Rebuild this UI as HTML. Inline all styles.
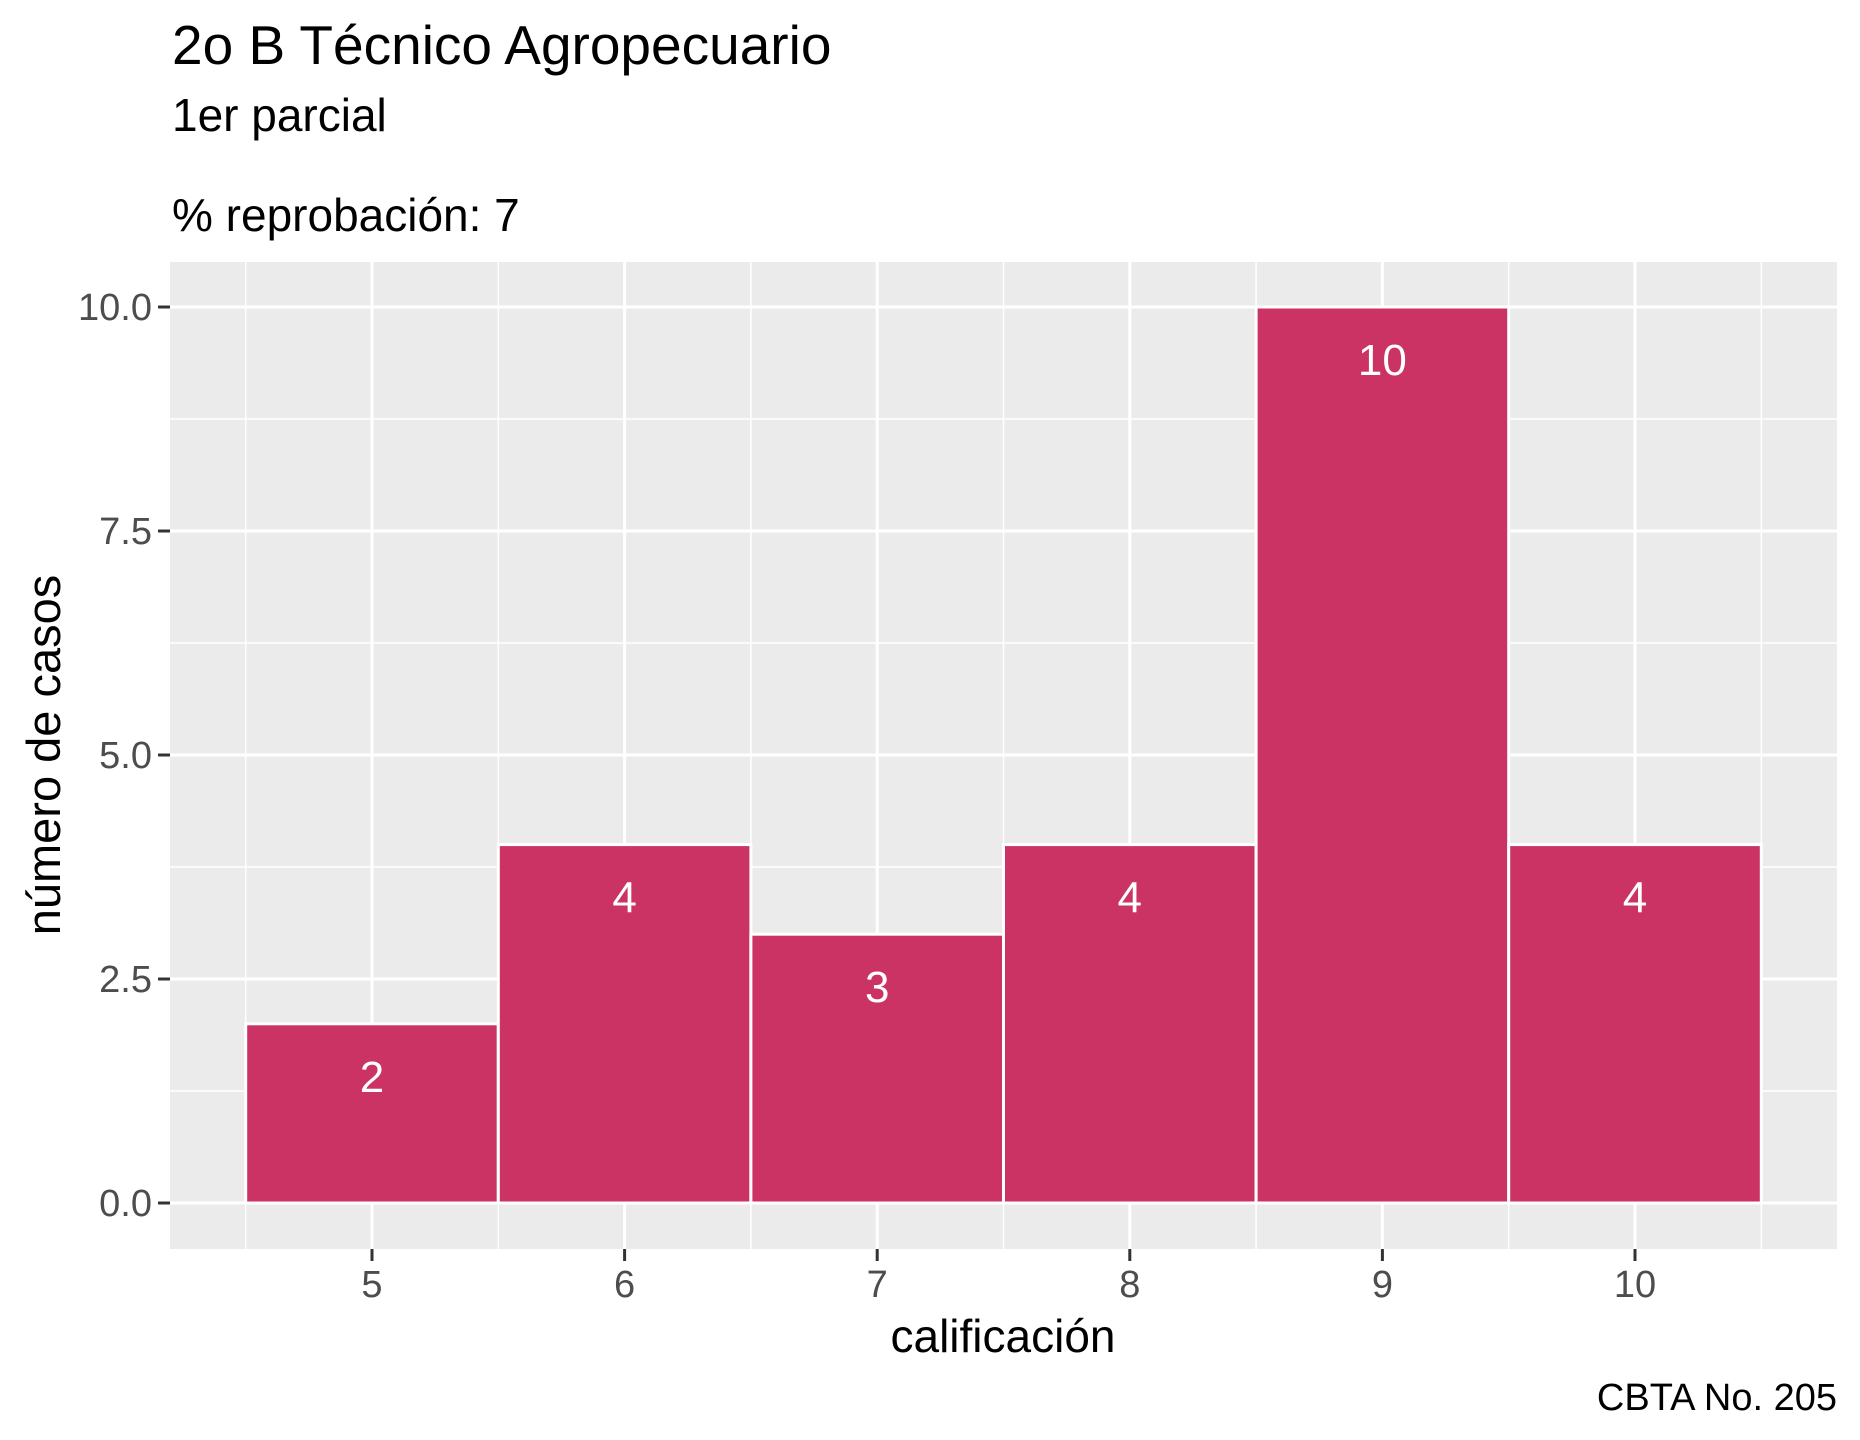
<!DOCTYPE html>
<html><head><meta charset="utf-8"><style>
body{margin:0;background:#fff}
svg{display:block;font-family:"Liberation Sans",Arial,sans-serif}
</style></head><body>
<svg id="chart" width="1860" height="1440" viewBox="0 0 1860 1440">
<text x="172" y="64" font-size="55" fill="#000">2o B Técnico Agropecuario</text>
<text x="172" y="131" font-size="46" fill="#000">1er parcial</text>
<text x="172" y="231" font-size="46" fill="#000">% reprobación: 7</text>
<rect x="170" y="262" width="1667" height="987" fill="#ebebeb"/>
<g id="grid"></g><g id="bars"></g><g id="axes"></g>
<text x="1003" y="1352" font-size="46" text-anchor="middle" fill="#000">calificación</text>
<text transform="translate(60,755) rotate(-90)" font-size="47" text-anchor="middle" fill="#000">número de casos</text>
<text x="1837" y="1410" font-size="38" text-anchor="end" fill="#000">CBTA No. 205</text>
</svg>
<script>
const categories = [5, 6, 7, 8, 9, 10];
const counts = [2, 4, 3, 4, 10, 4];
const yTicks = [0, 2.5, 5, 7.5, 10];
const yTickLabels = ["0.0", "2.5", "5.0", "7.5", "10.0"];
const NS = "http://www.w3.org/2000/svg";
const xs = v => 372 + (v - 5) * 252.6;
const ys = v => 1203 - v * 89.6;
function mk(tag, attrs, parent){const e=document.createElementNS(NS,tag);for(const k in attrs)e.setAttribute(k,attrs[k]);parent.appendChild(e);return e;}
const grid=document.getElementById('grid'), bars=document.getElementById('bars'), axes=document.getElementById('axes');
for(let v=-1.25; v<=11.25; v+=2.5){const y=ys(v); if(y<262||y>1249)continue;
 const l=mk('line',{x1:170,x2:1837,y1:y,y2:y,stroke:'#fff','stroke-width':1.5},grid);
 
 }
for(let v=4.5; v<=10.5; v+=1){const x=xs(v);
 const l=mk('line',{x1:x,x2:x,y1:262,y2:1249,stroke:'#fff','stroke-width':1.5},grid);
 
 }
yTicks.forEach((v,i)=>{const y=ys(v);
 const l=mk('line',{x1:170,x2:1837,y1:y,y2:y,stroke:'#fff','stroke-width':3},grid);
 
 
 const t=mk('line',{x1:158,x2:170,y1:y,y2:y,stroke:'#333','stroke-width':3},axes);
 
 
 const tx=mk('text',{x:152,y:y+13,'font-size':38,'text-anchor':'end',fill:'#4d4d4d'},axes);
 tx.textContent=yTickLabels[i];
 
 });
categories.forEach((c,i)=>{const x=xs(c);
 const l=mk('line',{x1:x,x2:x,y1:262,y2:1249,stroke:'#fff','stroke-width':3},grid);
 
 
 const t=mk('line',{x1:x,x2:x,y1:1249,y2:1261,stroke:'#333','stroke-width':3},axes);
 
 
 const tx=mk('text',{x:x,y:1297,'font-size':38,'text-anchor':'middle',fill:'#4d4d4d'},axes);
 tx.textContent=String(c);
 
 
 const v=counts[i];
 const r=mk('rect',{x:xs(c-0.5),y:ys(v),width:xs(c+0.5)-xs(c-0.5),height:ys(0)-ys(v),fill:'#ca3363',stroke:'#fff','stroke-width':3},bars);
 
 
 const bl=mk('text',{x:x,y:ys(v)+68,'font-size':44,'text-anchor':'middle',fill:'#fff'},bars);
 bl.textContent=String(v);
 
 });
</script>
</body></html>
